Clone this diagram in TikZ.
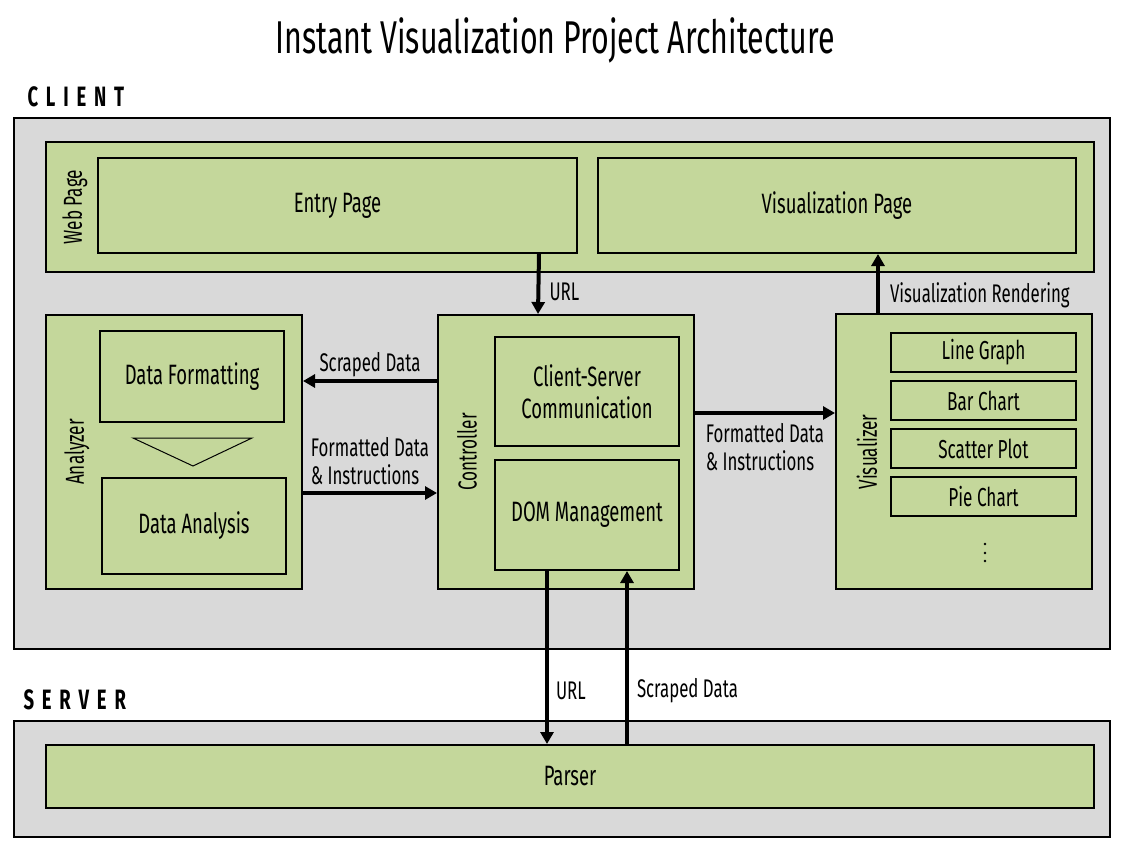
\documentclass[tikz,border=0pt]{standalone}
\usepackage{fontspec}
\setmainfont{Fira Sans}[FakeStretch=0.66]
\usepackage{tikz}
\usetikzlibrary{arrows.meta}
\usetikzlibrary{positioning}
\usetikzlibrary{calc}
\definecolor{regiongray}{HTML}{D9D9D9}
\definecolor{blockgreen}{HTML}{C4D79B}
\tikzstyle{region}=[draw, fill=regiongray, line width=1.5pt, inner sep=0pt]
\tikzstyle{block}=[draw, fill=blockgreen, line width=2pt, inner sep=0pt,
        align=center, font=\fontsize{28}{32}\selectfont]
\tikzstyle{item}=[block, minimum width=185pt, minimum height=39pt,
        font=\fontsize{26}{28}\selectfont]
\tikzstyle{side}=[rotate=90, font=\fontsize{26}{30}\selectfont]
\tikzstyle{zone}=[anchor=west, font=\bfseries\fontsize{28}{32}\selectfont\addfontfeature{LetterSpace=28}]
\tikzstyle{lbl}=[align=left, inner sep=2pt, font=\fontsize{25.5}{28}\selectfont]
\tikzstyle{suite}=[-{Triangle[length=12pt,width=13pt]}, line width=4pt]

\begin{document}
\begin{tikzpicture}[x=1pt,y=1pt]
\useasboundingbox (0,0) rectangle (1127,-849);
\node[font=\fontsize{46}{50}\selectfont] (title) at (555,-40) {Instant Visualization Project Architecture};
\node[zone] (clientlbl) at (24,-97) {CLIENT};
\node[zone] (serverlbl) at (20,-700) {SERVER};
% client side
\node[region, minimum width=1096pt, minimum height=531pt] (client) at (562,-383.5) {};
\node[block, minimum width=1048pt, minimum height=130pt] (webpage) at (570,-207) {};
\node[side] (weblbl) at (75,-207) {Web Page};
\node[block, minimum width=479pt, minimum height=95pt] (entry) at (337.5,-205.5) {\raisebox{-4pt}{Entry Page}};
\node[block, minimum width=478pt, minimum height=95pt] (vispage) at (837,-205.5) {\raisebox{-4pt}{Visualization Page}};
\node[block, minimum width=256pt, minimum height=274pt] (analyzer) at (174,-452) {};
\node[side] (analyzerlbl) at (77,-452) {Analyzer};
\node[block, minimum width=184pt, minimum height=91pt] (formatting) at (192,-376.5) {Data Formatting};
\node[block, minimum width=184pt, minimum height=96pt] (analysis) at (194,-526) {Data Analysis};
\draw[line width=1pt] (133,-438) -- (252,-438) -- (193,-466) -- cycle;
\node[block, minimum width=256pt, minimum height=274pt] (controller) at (566,-452) {};
\node[side] (controllerlbl) at (467,-452) {Controller};
\node[block, minimum width=184pt, minimum height=109pt] (csc) at (587,-391.5) {Client-Server\\Communication};
\node[block, minimum width=184pt, minimum height=110pt] (dom) at (587,-515) {DOM Management};
\node[block, minimum width=256pt, minimum height=275pt] (visualizer) at (964,-451.5) {};
\node[side] (visualizerlbl) at (867,-452) {Visualizer};
\node[item] (line) at (983.5,-352.5) {Line Graph};
\node[item] (bar) at (983.5,-400.5) {Bar Chart};
\node[item] (scatter) at (983.5,-448.5) {Scatter Plot};
\node[item] (pie) at (983.5,-496.5) {Pie Chart};
\foreach \y in {544,553,561}
  \fill (985,-\y) circle (1.4pt);
% server side
\node[region, minimum width=1096pt, minimum height=116pt] (server) at (562,-779) {};
\node[block, minimum width=1048pt, minimum height=63pt] (parser) at (570,-776.5) {\raisebox{-3pt}{Parser}};
%Drawing Edges
\draw[suite] ([xshift=-39pt]entry.south east) -- ([xshift=-28pt]controller.north) node[midway,right,lbl,xshift=7pt,yshift=-8pt]{URL};
\draw[suite] ([yshift=71pt]controller.west) -- ([yshift=71pt]analyzer.east) node[midway,above,lbl]{Scraped Data};
\draw[suite] ([yshift=-41pt]analyzer.east) -- ([yshift=-41pt]controller.west) node[midway,above,lbl,yshift=4pt]{Formatted Data\\\& Instructions};
\draw[suite] ([yshift=39pt]controller.east) -- ([yshift=38.5pt]visualizer.west) node[midway,below,lbl,yshift=-6pt]{Formatted Data\\\& Instructions};
\draw[suite] ([xshift=-86pt]visualizer.north) -- ([xshift=41pt]vispage.south) node[midway,right,lbl,xshift=8pt,yshift=-12pt]{Visualization Rendering};
\draw[suite] ([xshift=-40pt]dom.south) -- ([xshift=-23pt]parser.north) node[pos=0.69,right,lbl,xshift=5pt]{URL};
\draw[suite] ([xshift=57pt]parser.north) -- ([xshift=40pt]dom.south) node[pos=0.31,right,lbl,xshift=6pt]{Scraped Data};
\end{tikzpicture}
\end{document}
